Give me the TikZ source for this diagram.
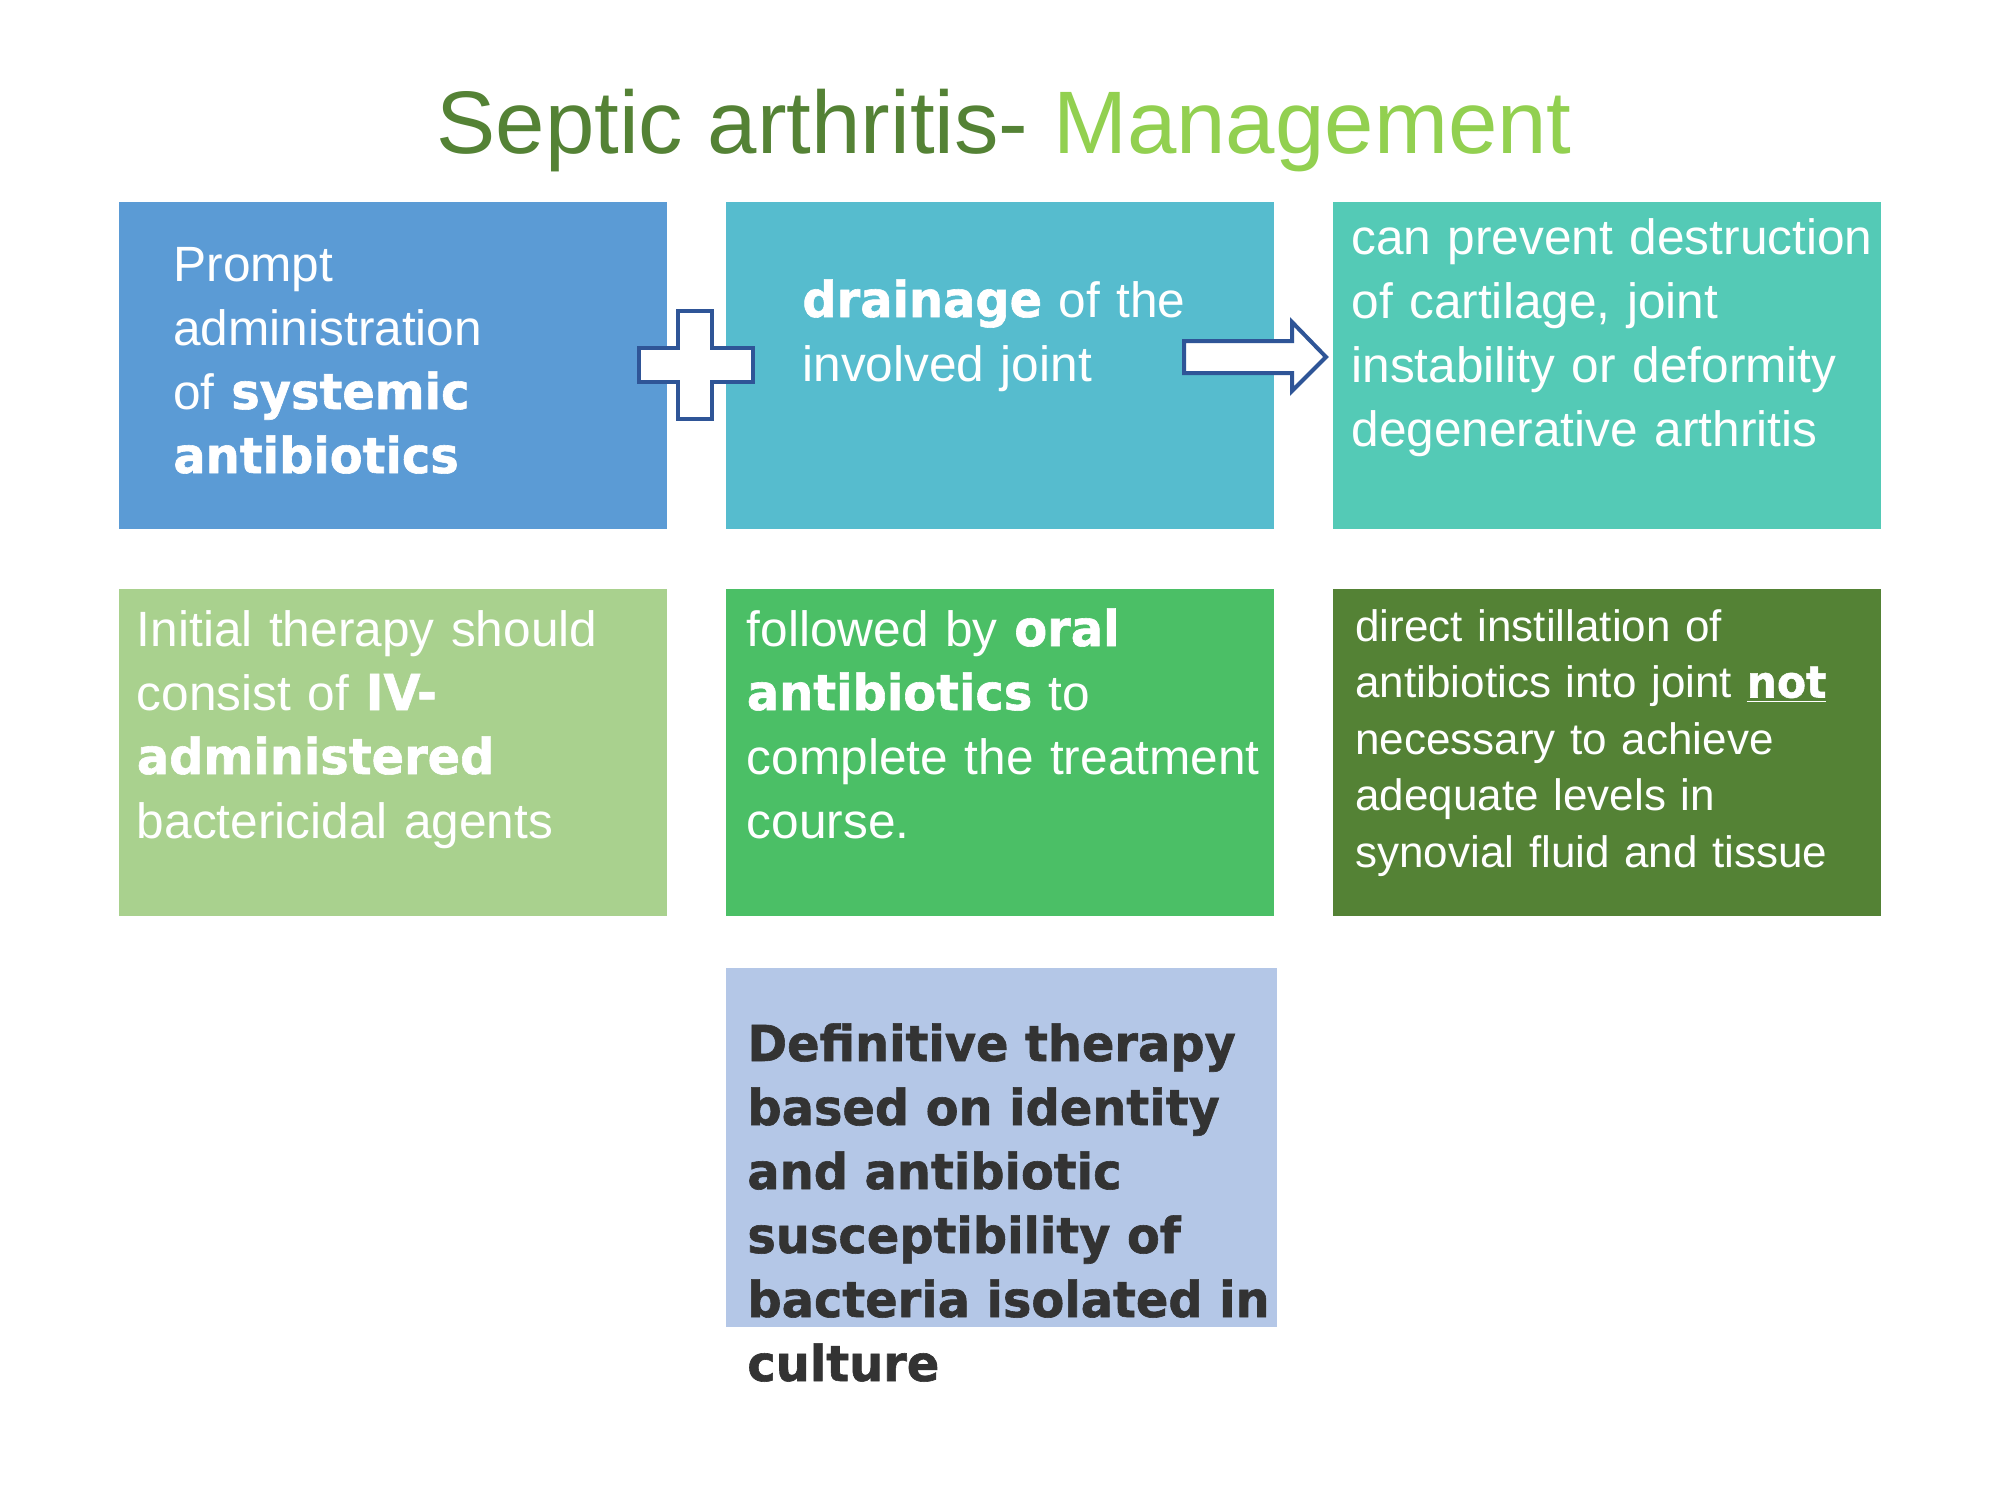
\documentclass[tikz,border=0pt]{standalone}
\usepackage{fontspec}
\setmainfont{Liberation Sans}
\newfontfamily\heavyfam{DejaVu Sans}[FakeStretch=0.965, BoldFeatures={FakeBold=1.2}]
\newcommand\hvy{\heavyfam\bfseries}
\definecolor{dkgreen}{RGB}{84,130,53}
\definecolor{ltgreen}{RGB}{146,208,80}
\definecolor{cA}{RGB}{91,155,213}
\definecolor{cB}{RGB}{86,188,206}
\definecolor{cC}{RGB}{84,202,182}
\definecolor{cD}{RGB}{169,209,142}
\definecolor{cE}{RGB}{75,191,102}
\definecolor{cF}{RGB}{84,130,53}
\definecolor{cG}{RGB}{180,199,231}
\definecolor{darktxt}{RGB}{51,51,51}
\definecolor{navy}{RGB}{47,85,151}
\begin{document}
\begin{tikzpicture}[x=0.5pt,y=-0.5pt,
  box/.style={rectangle, draw=none, inner sep=0pt, minimum width=274pt, minimum height=163.5pt},
  txt/.style={anchor=base west, inner sep=0pt, text width=300pt, align=left, text=white,
     font=\fontsize{24.8}{32}\selectfont},
  symb/.style={draw=navy, line width=2pt, fill=white, line join=miter}]
\useasboundingbox (0,0) rectangle (2000,1500);
\fill[white] (0,0) rectangle (2000,1500);

\node[anchor=base, inner sep=0pt, font=\fontsize{44.4}{50}\selectfont] (title) at (1004,153)
  {\textcolor{dkgreen}{Septic arthritis-} \textcolor{ltgreen}{Management}};

% boxes
\node[box, fill=cA] (b1) at (392.6,365.5) {};
\node[box, fill=cB] (b2) at (999.8,365.5) {};
\node[box, fill=cC] (b3) at (1607,365.5) {};
\node[box, fill=cD] (b4) at (392.6,752) {};
\node[box, fill=cE] (b5) at (999.8,752) {};
\node[box, fill=cF] (b6) at (1607,752) {};
\node[box, fill=cG, minimum width=275.5pt, minimum height=179.5pt] (b7) at (1001.5,1147.5) {};

% plus sign
\draw[symb] (639,348) -- (678,348) -- (678,311) -- (712,311) -- (712,348) -- (753,348)
  -- (753,382) -- (712,382) -- (712,419) -- (678,419) -- (678,382) -- (639,382) -- cycle;

% block arrow
\draw[symb] (1184,341) -- (1292,341) -- (1292,322) -- (1326,357) -- (1292,391)
  -- (1292,373) -- (1184,373) -- cycle;

% texts
\node[txt] (t1) at (173,281) {Prompt\\administration\\of {\hvy systemic}\\{\hvy antibiotics}};
\node[txt] (t2) at (802,317) {{\hvy drainage} of the\\involved joint};
\node[txt] (t3) at (1351,254) {can prevent destruction\\of cartilage, joint\\instability or deformity\\degenerative arthritis};
\node[txt] (t4) at (136.5,646) {Initial therapy should\\consist of {\hvy IV-}\\{\hvy administered}\\bactericidal agents};
\node[txt] (t5) at (746.5,646) {followed by {\hvy oral}\\{\hvy antibiotics} to\\complete the treatment\\course.};
\node[txt, font=\fontsize{22}{28.25}\selectfont] (t6) at (1355,641) {direct instillation of\\antibiotics into joint \underline{\hvy not}\\necessary to achieve\\adequate levels in\\synovial fluid and tissue};
\node[txt, text=darktxt] (t7) at (747,1061) {\hvy Definitive therapy\\based on identity\\and antibiotic\\susceptibility of\\bacteria isolated in\\culture};
\end{tikzpicture}
\end{document}
